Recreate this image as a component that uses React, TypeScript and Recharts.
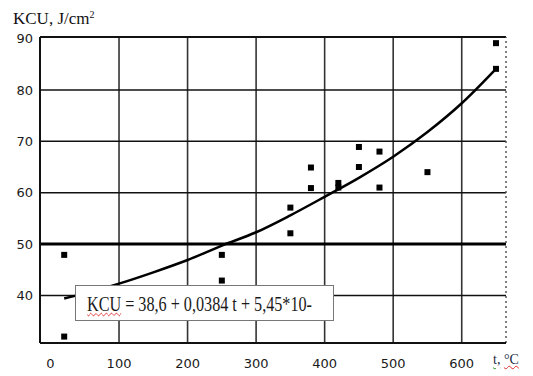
import React from "react";
import {
  ComposedChart,
  XAxis,
  YAxis,
  Line,
  Scatter,
  ReferenceLine,
} from "recharts";

// Measured specimens (t, °C ; KCU, J/cm²)
const measuredT = [20, 20, 250, 250, 350, 350, 380, 380, 420, 420, 450, 450, 480, 480, 550, 650, 650];
const measuredKCU = [47.9, 32.0, 47.9, 42.9, 57.1, 52.1, 64.9, 60.9, 61.9, 61.0, 68.9, 65.0, 68.0, 61.0, 64.0, 89.1, 84.1];

// Regression curve
const curveT = [20, 50, 100, 150, 200, 250, 300, 350, 400, 450, 500, 550, 600, 650];
const curveKCU = [39.4, 40.4, 42.3, 44.5, 46.9, 49.7, 52.3, 55.6, 59.2, 62.9, 67.0, 71.8, 77.4, 84.1];

const xTicks = [0, 100, 200, 300, 400, 500, 600];
const yTicks = [40, 50, 60, 70, 80, 90];
const xGrid = [100, 200, 300, 400, 500, 600];
const yGrid = [40, 60, 70, 80];
const yBold = 50;

const X_MIN = -15.3;
const X_MAX = 664.6;
const Y_MIN = 30.75;
const Y_MAX = 90.3;

const pointsData = measuredT.map((t, i) => ({ t, kcu: measuredKCU[i] }));
const curveData = curveT.map((t, i) => ({ t, fit: curveKCU[i] }));

const SquareMark = (props: any) => {
  const { cx, cy } = props;
  if (cx == null || cy == null) return null;
  return <rect x={cx - 3} y={cy - 3} width={6} height={6} fill="#000" />;
};

const tickStyle = { fill: "#1a1a1a", fontFamily: "DejaVu Sans", fontSize: 13 };

export default function App() {
  return (
    <div style={{ position: "absolute", left: 0, top: 0, width: 533, height: 376, background: "#fff" }}>
      <ComposedChart
        width={533}
        height={376}
        margin={{ top: 37, right: 27, bottom: 0, left: 0 }}
      >
        <XAxis
          dataKey="t"
          type="number"
          domain={[X_MIN, X_MAX]}
          ticks={xTicks}
          allowDataOverflow
          height={33}
          tickSize={0}
          tickMargin={16}
          tick={tickStyle}
          axisLine={{ stroke: "#111", strokeWidth: 2 }}
          tickLine={false}
        />
        <YAxis
          type="number"
          domain={[Y_MIN, Y_MAX]}
          ticks={yTicks}
          allowDataOverflow
          width={40}
          tickSize={0}
          tickMargin={7}
          tick={tickStyle}
          axisLine={{ stroke: "#111", strokeWidth: 2 }}
          tickLine={false}
        />
        {xGrid.map((v) => (
          <ReferenceLine key={"vx" + v} x={v} stroke="#333" strokeWidth={1.6} />
        ))}
        {yGrid.map((v) => (
          <ReferenceLine key={"hy" + v} y={v} stroke="#111" strokeWidth={1.6} />
        ))}
        <ReferenceLine y={yBold} stroke="#000" strokeWidth={3} />
        <ReferenceLine y={Y_MAX} stroke="#111" strokeWidth={2} />
        <ReferenceLine x={X_MAX} stroke="#555" strokeWidth={1.5} strokeDasharray="2 3" />
        <Line
          data={curveData}
          dataKey="fit"
          type="monotone"
          stroke="#000"
          strokeWidth={2.5}
          dot={false}
          isAnimationActive={false}
        />
        <Scatter
          data={pointsData}
          dataKey="kcu"
          shape={<SquareMark />}
          isAnimationActive={false}
        />
      </ComposedChart>

      <div
        style={{
          position: "absolute",
          left: 13,
          top: 10,
          fontFamily: "Liberation Serif",
          fontSize: 17,
          lineHeight: 1,
          color: "#111",
          whiteSpace: "nowrap",
        }}
      >
        KCU, J/cm<sup style={{ fontSize: 10, verticalAlign: "6px", lineHeight: 0 }}>2</sup>
      </div>

      <div
        style={{
          position: "absolute",
          left: 75,
          top: 285,
          width: 257,
          height: 34,
          background: "#fff",
          border: "1px solid #777",
          overflow: "hidden",
        }}
      >
        <div
          style={{
            position: "absolute",
            left: 11,
            top: 7,
            fontFamily: "Liberation Serif",
            fontSize: 22,
            lineHeight: 1,
            color: "#1a1a1a",
            whiteSpace: "nowrap",
            transform: "scaleX(0.735)",
            transformOrigin: "left top",
          }}
        >
          <span style={{ textDecoration: "underline wavy #e03030", textDecorationThickness: 1 }}>KCU</span>
          {" = 38,6 + 0,0384 t + 5,45*10-"}
        </div>
      </div>

      <div
        style={{
          position: "absolute",
          left: 493,
          top: 353,
          fontFamily: "Liberation Serif",
          fontSize: 14,
          lineHeight: 1,
          color: "#1a2a44",
          whiteSpace: "nowrap",
        }}
      >
        <span style={{ textDecoration: "underline wavy #2a9a2a", textDecorationThickness: 1 }}>t,</span>{" "}
        <span style={{ textDecoration: "underline wavy #e03030", textDecorationThickness: 1 }}>°C</span>
      </div>
    </div>
  );
}
